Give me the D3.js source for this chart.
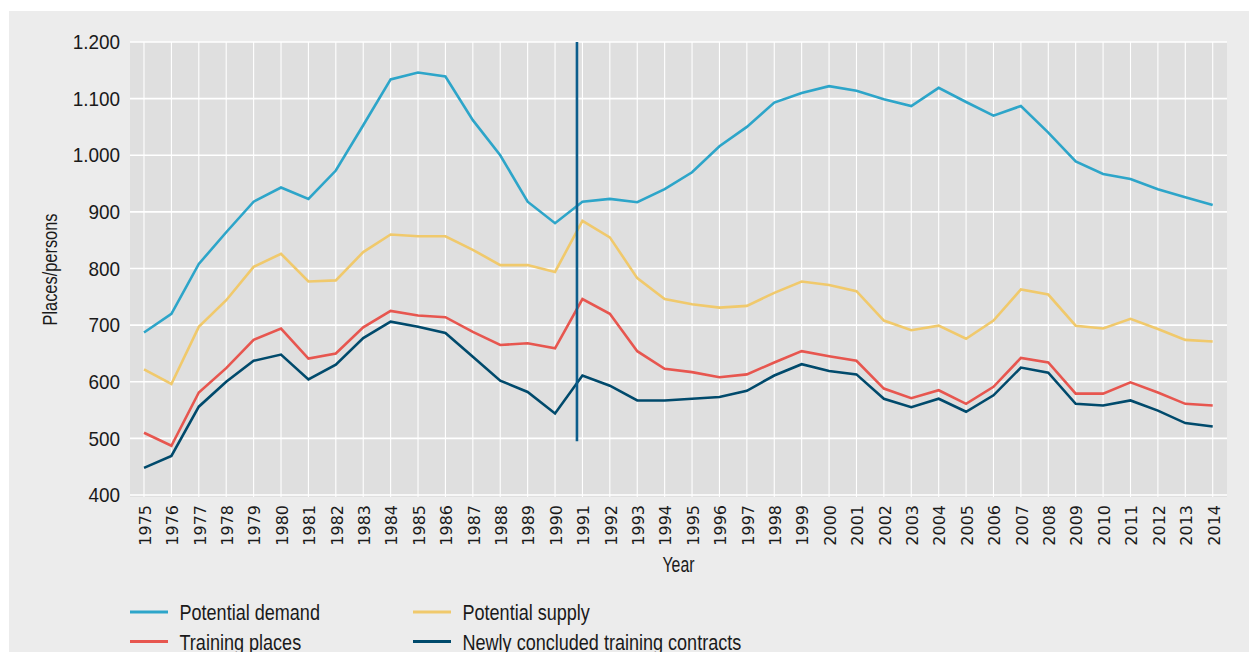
<!DOCTYPE html>
<html>
<head>
<meta charset="utf-8">
<script src="https://cdn.jsdelivr.net/npm/d3@7"></script>
<style>
  html, body { margin: 0; padding: 0; background: #ffffff; }
  svg { display: block; }
</style>
</head>
<body>
<svg id="chart" width="1249" height="652"></svg>
<script>
// ---- data ----
const years = d3.range(1975, 2015);
const potentialDemand = [687, 720, 808, 864, 918, 943, 923, 973, 1053, 1134,
  1146, 1139, 1062, 1000, 918, 880, 918, 923, 917, 940,
  970, 1016, 1050, 1093, 1110, 1122, 1114, 1099, 1087, 1119,
  1094, 1070, 1087, 1040, 989, 967, 958, 940, 926, 912];
const potentialSupply = [622, 596, 697, 744, 803, 826, 777, 779, 829, 860,
  857, 857, 833, 806, 806, 794, 884, 855, 783, 746,
  737, 731, 734, 757, 777, 771, 760, 708, 691, 699,
  676, 708, 763, 754, 699, 694, 711, 693, 674, 671];
const trainingPlaces = [510, 487, 581, 624, 674, 694, 641, 650, 696, 725,
  717, 714, 688, 665, 668, 659, 746, 720, 654, 623,
  617, 608, 613, 634, 654, 645, 637, 588, 571, 585,
  561, 591, 642, 634, 579, 579, 599, 581, 561, 558];
const newContracts = [448, 469, 556, 600, 637, 648, 604, 630, 677, 706,
  697, 686, 644, 602, 582, 544, 611, 593, 567, 567,
  570, 573, 584, 611, 631, 619, 613, 570, 555, 570,
  547, 576, 625, 616, 561, 558, 567, 549, 527, 521];
const yTicks = [400, 500, 600, 700, 800, 900, 1000, 1100, 1200];
const markerYear = 1990.8;          // reunification marker
const markerRange = [495, 1200];

const seriesNames = ["Potential demand", "Potential supply", "Training places", "Newly concluded training contracts"];
const seriesColors = ["#2da5c9", "#f0c96c", "#e7564f", "#004a6c"];
const seriesValues = [potentialDemand, potentialSupply, trainingPlaces, newContracts];

// ---- layout ----
const svg = d3.select("#chart");
const W = 1249, H = 652;
const panel = { left: 130, right: 1227, top: 42, bottom: 497 };
const FONT = "'Liberation Sans Narrow', 'Liberation Sans', sans-serif";

// condense text horizontally (narrow humanist look)
function narrow(sel, factor) {
  sel.each(function () {
    const len = this.getComputedTextLength();
    d3.select(this).attr("textLength", len * factor).attr("lengthAdjust", "spacingAndGlyphs");
  });
}

svg.append("rect").attr("x", 9).attr("y", 11).attr("width", W - 9).attr("height", H - 11).attr("fill", "#ececec");
svg.append("rect").attr("x", panel.left).attr("y", panel.top)
  .attr("width", panel.right - panel.left).attr("height", panel.bottom - panel.top).attr("fill", "#dfdfdf");

const x = d3.scaleLinear().domain([1975, 2014]).range([144, 1212.7]);
const y = d3.scaleLinear().domain([400, 1200]).range([495, 42]);

const locale = d3.formatLocale({ decimal: ",", thousands: ".", grouping: [3], currency: ["", "€"] });
const fmt = locale.format(",d");

// gridlines
svg.append("g").selectAll("line").data(years).join("line")
  .attr("x1", d => x(d)).attr("x2", d => x(d))
  .attr("y1", panel.top).attr("y2", panel.bottom)
  .attr("stroke", "#ffffff").attr("stroke-width", 1.1);
svg.append("g").selectAll("line").data(yTicks).join("line")
  .attr("x1", panel.left).attr("x2", panel.right)
  .attr("y1", d => y(d)).attr("y2", d => y(d))
  .attr("stroke", "#ffffff").attr("stroke-width", 1.6);

// y axis labels
const yAxis = d3.axisLeft(y).tickValues(yTicks).tickFormat(fmt).tickSize(0).tickPadding(10);
const gy = svg.append("g").attr("transform", `translate(${panel.left},0)`).call(yAxis);
gy.select(".domain").remove();
gy.selectAll("text").attr("font-family", FONT).attr("font-size", 21).attr("fill", "#1a1a1a")
  .call(narrow, 0.9);

// x axis labels (rotated)
const xAxis = d3.axisBottom(x).tickValues(years).tickFormat(d3.format("d")).tickSize(0);
const gx = svg.append("g").attr("transform", `translate(0,${panel.bottom})`).call(xAxis);
gx.select(".domain").remove();
gx.selectAll("text")
  .attr("font-family", "'DejaVu Sans', sans-serif").attr("font-size", 16).attr("fill", "#1a1a1a")
  .attr("text-anchor", "end").attr("dy", null).attr("y", null)
  .attr("transform", "translate(6.3,8) rotate(-90)");

// axis titles
svg.append("text").attr("x", (panel.left + panel.right) / 2).attr("y", 572)
  .attr("text-anchor", "middle").attr("font-family", FONT).attr("font-size", 22)
  .attr("fill", "#1a1a1a").text("Year").call(narrow, 0.72);
svg.append("text").attr("transform", `translate(57,${(panel.top + panel.bottom) / 2}) rotate(-90)`)
  .attr("text-anchor", "middle").attr("font-family", FONT).attr("font-size", 20)
  .attr("fill", "#1a1a1a").text("Places/persons").call(narrow, 0.82);

// lines
const line = d3.line().x((d, i) => x(years[i])).y(d => y(d));
svg.append("g").selectAll("path").data(seriesValues).join("path")
  .attr("d", d => line(d)).attr("fill", "none")
  .attr("stroke", (d, i) => seriesColors[i]).attr("stroke-width", 2.6)
  .attr("stroke-linejoin", "miter");

// marker line
svg.append("line").attr("x1", x(markerYear)).attr("x2", x(markerYear))
  .attr("y1", y(markerRange[1])).attr("y2", y(markerRange[0]))
  .attr("stroke", "#0b5d8c").attr("stroke-width", 2.6);

// legend
const legendPos = [[130, 612], [413, 612], [130, 641.5], [413, 641.5]];
const legendOrder = [0, 1, 2, 3];
const lg = svg.append("g").selectAll("g").data(legendOrder).join("g")
  .attr("transform", (d, i) => `translate(${legendPos[i][0]},${legendPos[i][1]})`);
lg.append("line").attr("x1", 0).attr("x2", 38).attr("y1", 0).attr("y2", 0)
  .attr("stroke", d => seriesColors[d]).attr("stroke-width", 3);
lg.append("text").attr("x", 49.5).attr("y", 8).attr("font-family", FONT).attr("font-size", 22)
  .attr("fill", "#1a1a1a").text(d => seriesNames[d]).call(narrow, 0.82);
</script>
</body>
</html>
